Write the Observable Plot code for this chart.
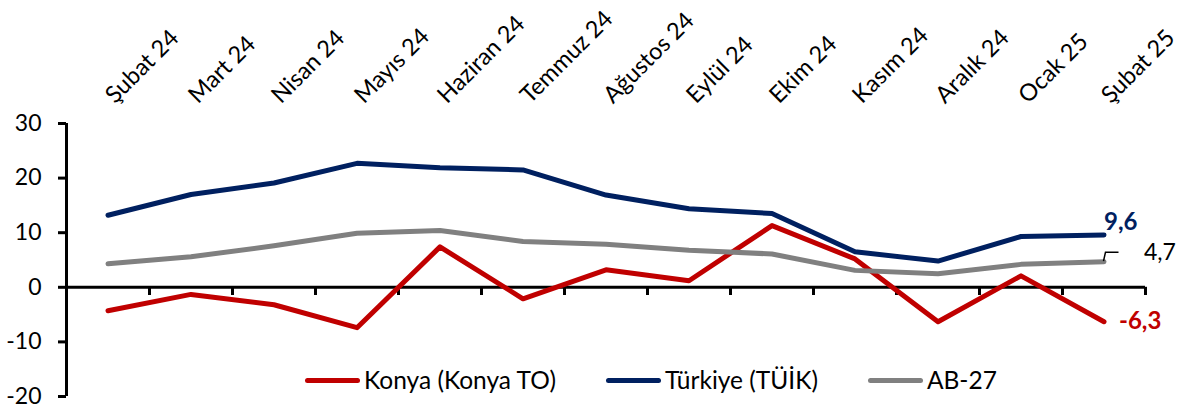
<!DOCTYPE html>
<html><head><meta charset="utf-8">
<script src="https://cdn.jsdelivr.net/npm/d3@7"></script>
<script src="https://cdn.jsdelivr.net/npm/@observablehq/plot@0.6"></script>
<style>
body{margin:0;background:#fff;font-family:Lato, sans-serif;}
#wrap{position:relative;width:1179px;height:412px;}
#legend{position:absolute;left:305px;top:364px;display:flex;font-size:24.5px;color:#000;font-family:Lato, sans-serif;line-height:32px;}
.item{display:flex;align-items:center;margin-right:50px;}
.sw{width:55px;height:5px;border-radius:3px;margin-right:4px;}
</style></head><body><div id="wrap"><div id="chart"></div><div id="legend"></div></div>
<script>
const months = ["Şubat 24","Mart 24","Nisan 24","Mayıs 24","Haziran 24","Temmuz 24","Ağustos 24","Eylül 24","Ekim 24","Kasım 24","Aralık 24","Ocak 25","Şubat 25"];
const konya   = [-4.3,-1.3,-3.2,-7.4, 7.4,-2.1, 3.2, 1.2,11.3, 5.2,-6.3, 2.1,-6.3];
const turkiye = [13.2,17.0,19.1,22.7,21.9,21.5,16.9,14.4,13.5, 6.5, 4.8, 9.3, 9.6];
const ab27    = [ 4.3, 5.6, 7.6, 9.9,10.4, 8.4, 7.9, 6.8, 6.1, 3.1, 2.5, 4.2, 4.7];
const yTicks = [-20,-10,0,10,20,30];
const seriesNames = ["Konya (Konya TO)","Türkiye (TÜİK)","AB-27"];
const seriesColors = ["#C00000","#002060","#808080"];

const rows = [];
[konya, turkiye, ab27].forEach((arr, s) => arr.forEach((v, i) => rows.push({series: seriesNames[s], i, v})));
const n = months.length;
const bounds = d3.range(n).map(i => i + 0.5);
const last = n - 1;
const fmt = v => String(v).replace(".", ",");

const chart = Plot.plot({
  width: 1179, height: 412,
  marginLeft: 66, marginRight: 34, marginTop: 123, marginBottom: 16,
  style: {fontFamily: "Lato, sans-serif", color: "#000", background: "#fff", overflow: "visible"},
  x: {type: "linear", domain: [-0.5, n - 0.5], axis: null},
  y: {domain: [-20, 30], axis: null},
  color: {domain: seriesNames, range: seriesColors},
  marks: [
    Plot.axisY({ticks: yTicks, label: null, tickSize: 8, tickPadding: 17, fontSize: 23, strokeWidth: 3, tickFormat: d => String(d)}),
    Plot.ruleX([-0.5], {y1: -20, y2: 30, strokeWidth: 3}),
    Plot.ruleY([0], {x1: -0.5, x2: n - 0.5, strokeWidth: 3}),
    Plot.ruleX(bounds, {y1: 0, y2: -1.5, strokeWidth: 3}),
    Plot.text(months, {x: (d, i) => i, frameAnchor: "top", rotate: -45, textAnchor: "start", lineAnchor: "bottom", dx: 7, dy: -19, fontSize: 23.5}),
    Plot.line(rows, {x: "i", y: "v", z: "series", stroke: "series", strokeWidth: 5, strokeLinecap: "round", strokeLinejoin: "round"}),
    Plot.text([turkiye[last]], {x: () => last, y: d => d, text: fmt, textAnchor: "start", dx: 0, dy: -13, fill: seriesColors[1], fontWeight: "bold", fontSize: 24}),
    Plot.text([konya[last]], {x: () => last, y: d => d, text: fmt, textAnchor: "start", dx: 15, dy: 0, fill: seriesColors[0], fontWeight: "bold", fontSize: 24}),
    Plot.text([ab27[last]], {x: () => last, y: d => d, text: fmt, textAnchor: "start", dx: 40, dy: -9, fill: "#000", fontSize: 23}),
    (index, scales, values, dims) => {
      const px = scales.x(last), py = scales.y(ab27[last]);
      const p = d3.create("svg:path")
        .attr("d", `M${px},${py} L${px + 2},${py - 9} L${px + 15},${py - 9}`)
        .attr("fill", "none").attr("stroke", "#000").attr("stroke-width", 1.5);
      return p.node();
    }
  ]
});
document.getElementById("chart").appendChild(chart);

const legend = document.getElementById("legend");
seriesNames.forEach((name, k) => {
  const it = document.createElement("div"); it.className = "item";
  const sw = document.createElement("div"); sw.className = "sw"; sw.style.background = seriesColors[k];
  const tx = document.createElement("span"); tx.textContent = name;
  it.appendChild(sw); it.appendChild(tx); legend.appendChild(it);
});
</script></body></html>
